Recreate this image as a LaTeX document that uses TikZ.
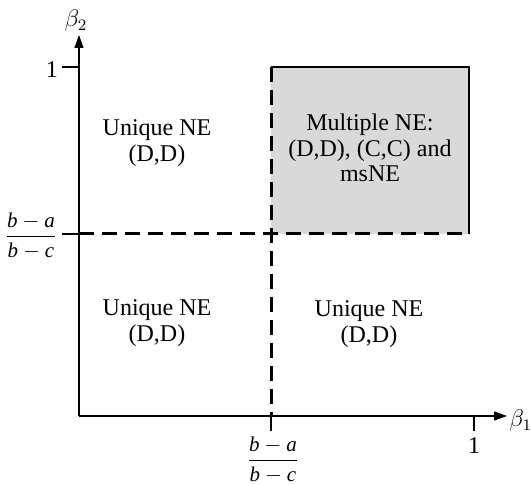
\documentclass[tikz,border=0pt]{standalone}
\usepackage{amsmath}
\usepackage{fontspec}
\setmainfont{Liberation Serif}
\usetikzlibrary{arrows.meta}
\tikzset{
	axis/.style={line width=.6pt, -{Triangle[length=6.5pt, width=4.5pt]}},
	tick/.style={line width=.6pt},
	bound/.style={line width=1.5pt, dash pattern=on 7.5pt off 4pt},
	region/.style={align=center, font=\fontsize{12}{12.8}\selectfont, inner sep=0pt},
	ticklabel/.style={font=\fontsize{12}{12.8}\selectfont, inner sep=0pt},
	fraclabel/.style={font=\fontsize{10.5}{11}\selectfont, inner sep=0pt}
}
\newcommand{\thresh}{$\dfrac{\mathit{b}-\mathit{a}}{\mathit{b}-\mathit{c}}$}
\begin{document}
\begin{tikzpicture}[x=.5pt, y=-.5pt]
		\useasboundingbox (0, 0) rectangle (531, 485);
		\coordinate (O) at (79, 416);
		\coordinate (xend) at (507, 416);
		\coordinate (yend) at (79, 35);
		\fill[black!15] (271, 67) rectangle (469, 234);
		\draw[tick] (271, 67) -- (469, 67) -- (469, 234);
		\draw[axis] (O) -- (xend);
		\draw[axis] (O) -- (yend);
		\draw[tick] (62, 67) -- (79, 67);
		\draw[tick] (62, 234) -- (79, 234);
		\draw[tick] (271, 416) -- (271, 431);
		\draw[tick] (474, 416) -- (474, 431);
		\draw[bound] (79, 234) -- (470, 234);
		\draw[bound] (271, 67) -- (271, 416);
		\node[ticklabel] (one y) at (52, 70) {1};
		\node[ticklabel] (one x) at (474, 446) {1};
		\node[fraclabel] (frac y) at (31, 236) {\thresh};
		\node[fraclabel] (frac x) at (273, 460) {\thresh};
		\node[ticklabel, anchor=west] (beta x) at (509, 421) {$\beta_1$};
		\node[ticklabel] (beta y) at (76, 21) {$\beta_2$};
		\node[region] (ul) at (157, 143) {Unique NE\\(D,D)};
		\node[region] (ll) at (157, 323) {Unique NE\\(D,D)};
		\node[region] (lr) at (369, 324) {Unique NE\\(D,D)};
		\node[region] (multi) at (370, 148) {Multiple NE:\\(D,D), (C,C) and\\msNE};
\end{tikzpicture}
\end{document}
